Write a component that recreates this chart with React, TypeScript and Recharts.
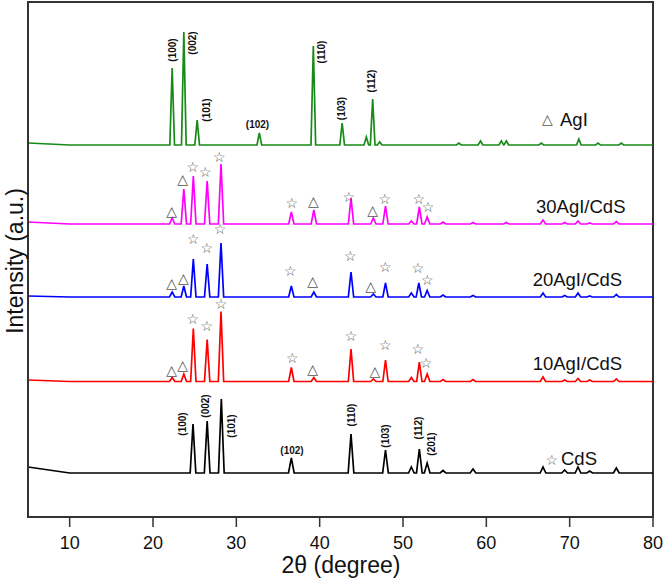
import React from 'react';
import { ComposedChart, Line, XAxis, YAxis, ReferenceArea, ReferenceDot } from 'recharts';

// ---------- data (2θ in degrees, intensity in arbitrary stacked units) ----------
const X_TICKS = [10, 20, 30, 40, 50, 60, 70, 80];

// AgI
const agiStart = 374;
const agiBase = 372;
const agiPos = [22.3, 23.7, 25.3, 32.76, 39.24, 42.7, 45.6, 46.36, 47.2, 56.7, 59.3, 61.8, 62.4, 66.6, 71.1, 73.4, 76.2];
const agiHeight = [77, 113, 25, 12, 99, 22, 8, 46, 3, 2, 4, 4, 4, 2, 6, 2, 2];

// 30AgI/CdS
const s30Start = 295;
const s30Base = 293;
const s30Pos = [22.3, 23.7, 24.84, 26.5, 28.16, 36.6, 39.3, 43.76, 46.44, 47.9, 51.0, 51.96, 52.9, 54.8, 58.4, 62.4, 66.8, 69.4, 71.0, 72.4, 75.6];
const s30Height = [6, 35, 48, 43, 60, 12, 14, 26, 6, 18, 3, 17, 7, 2, 1.5, 1.5, 4, 1.5, 3, 1, 2.5];

// 20AgI/CdS
const s20Start = 221;
const s20Base = 220;
const s20Pos = [22.3, 23.7, 24.84, 26.5, 28.16, 36.6, 39.3, 43.76, 46.44, 47.9, 51.0, 51.9, 52.9, 54.8, 58.4, 66.8, 69.4, 71.0, 72.4, 75.6];
const s20Height = [5, 11, 38, 33, 54, 11, 5, 25, 3, 14, 4, 14, 6.5, 2, 1.5, 4, 1.5, 4, 1, 2.5];

// 10AgI/CdS
const s10Start = 137;
const s10Base = 135.5;
const s10Pos = [22.3, 23.7, 24.84, 26.5, 28.16, 36.6, 39.3, 43.76, 46.44, 47.9, 51.0, 51.96, 52.9, 54.8, 58.4, 66.8, 69.4, 71.0, 72.4, 75.6];
const s10Height = [4, 7.5, 53, 42, 70, 14, 4, 32.5, 2.5, 21.5, 4, 19.5, 7.5, 2, 2, 4.5, 1.5, 3, 1.5, 2.5];

// CdS
const cdsStart = 50;
const cdsBase = 44;
const cdsPos = [24.8, 26.5, 28.2, 36.6, 43.76, 47.9, 51.0, 51.96, 52.9, 54.8, 58.4, 66.8, 69.4, 71.0, 72.4, 75.6];
const cdsHeight = [49, 52, 74, 15, 39, 23, 6, 24, 10, 2.5, 4, 6, 3, 6, 2, 5];

// phase markers: [2θ, y, kind] kind: 's' = CdS star, 't' = AgI triangle
const markers30: [number, number, string][] = [
  [22.24, 306.3, 't'], [23.56, 338, 't'], [24.76, 349.7, 's'], [26.28, 345.3, 's'], [27.96, 360.3, 's'],
  [36.64, 313.7, 's'], [39.24, 315.7, 't'], [43.48, 319.7, 's'], [46.36, 307, 't'], [47.8, 318, 's'],
  [51.9, 318.3, 's'], [53.0, 310.3, 's'],
];
const markers20: [number, number, string][] = [
  [22.24, 234.3, 't'], [23.64, 239.3, 't'], [24.84, 277.7, 's'], [26.44, 269.3, 's'], [28.04, 287.7, 's'],
  [36.48, 246, 's'], [39.16, 235.7, 't'], [43.68, 261, 's'], [46.12, 231.3, 't'], [47.88, 250.3, 's'],
  [51.76, 248.7, 's'], [52.92, 237, 's'],
];
const markers10: [number, number, string][] = [
  [22.24, 147, 't'], [23.56, 152, 't'], [24.76, 197.7, 's'], [26.44, 191, 's'], [28.16, 212.7, 's'],
  [36.72, 158.7, 's'], [39.16, 147.7, 't'], [43.76, 181, 's'], [46.64, 146, 't'], [47.88, 172, 's'],
  [51.76, 168, 's'], [52.76, 153.7, 's'],
];
const legendMarkers: [number, number, string][] = [[67.32, 398, 't'], [67.84, 57, 's']];

// sample labels: [2θ (left edge), y, text]
const sampleLabels: [number, number, string][] = [
  [68.84, 397.7, 'AgI'],
  [65.96, 311, '30AgI/CdS'],
  [65.56, 237.7, '20AgI/CdS'],
  [65.56, 153.7, '10AgI/CdS'],
  [68.96, 58.7, 'CdS'],
];

// Miller indices: [2θ (centre), y (centre), text, vertical?]
const hklLabels: [number, number, string, boolean][] = [
  [22.36, 467, '(100)', true], [24.76, 474, '(002)', true], [26.44, 407, '(101)', true],
  [32.54, 393, '(102)', false], [40.16, 465, '(110)', true], [42.56, 408.5, '(103)', true],
  [46.16, 436, '(112)', true],
  [23.56, 93, '(100)', true], [26.24, 111, '(002)', true], [29.44, 91, '(101)', true],
  [36.68, 67, '(102)', false], [43.76, 102, '(110)', true], [47.84, 81, '(103)', true],
  [51.84, 89, '(112)', true], [53.44, 73, '(201)', true],
];

// ---------- helpers ----------
type Pt = { x: number; y: number };
function buildTrace(start: number, base: number, pos: number[], h: number[], w: number): Pt[] {
  const pts: Pt[] = [{ x: 5, y: start }, { x: 10, y: base }];
  pos.forEach((p, i) => {
    pts.push({ x: p - w, y: base });
    pts.push({ x: p, y: base + h[i] });
    pts.push({ x: p + w, y: base });
  });
  pts.push({ x: 80, y: base });
  return pts;
}

const traces = [
  { name: 'AgI', color: '#178a17', data: buildTrace(agiStart, agiBase, agiPos, agiHeight, 0.28) },
  { name: '30AgI/CdS', color: '#ff00ff', data: buildTrace(s30Start, s30Base, s30Pos, s30Height, 0.32) },
  { name: '20AgI/CdS', color: '#0000ff', data: buildTrace(s20Start, s20Base, s20Pos, s20Height, 0.32) },
  { name: '10AgI/CdS', color: '#ff0000', data: buildTrace(s10Start, s10Base, s10Pos, s10Height, 0.32) },
  { name: 'CdS', color: '#000000', data: buildTrace(cdsStart, cdsBase, cdsPos, cdsHeight, 0.34) },
];

const allMarkers = [...markers30, ...markers20, ...markers10, ...legendMarkers];

const FONT = '"Liberation Sans", Arial, sans-serif';
const AXIS = '#333';

const markerShape = (kind: string) => (props: any) => {
  const { cx, cy } = props;
  return (
    <text
      x={cx}
      y={cy}
      textAnchor="middle"
      dominantBaseline="central"
      fontFamily='"DejaVu Sans", sans-serif'
      fontSize={14}
      fill="#555"
    >
      {kind === 't' ? '△' : '☆'}
    </text>
  );
};

const sampleShape = (t: string) => (props: any) => (
  <text x={props.cx} y={props.cy} dominantBaseline="central" textAnchor="start" fontFamily={FONT} fontSize={18.5} fill="#111">
    {t}
  </text>
);

const hklShape = (t: string, vertical: boolean) => (props: any) => {
  const { cx, cy } = props;
  return (
    <text
      x={cx}
      y={cy}
      textAnchor="middle"
      dominantBaseline="central"
      fontFamily={FONT}
      fontWeight="bold"
      fontSize={10}
      fill="#111"
      transform={vertical ? `rotate(-90 ${cx} ${cy})` : undefined}
    >
      {t}
    </text>
  );
};

const XLabel = () => (
  <text x={341} y={573} textAnchor="middle" fontFamily={FONT} fontSize={23} fill="#111">
    2θ (degree)
  </text>
);
const YLabel = () => (
  <text x={15} y={261} textAnchor="middle" dominantBaseline="central" fontFamily={FONT} fontSize={23} fill="#111" transform="rotate(-90 15 261)">
    Intensity (a.u.)
  </text>
);

export default function App() {
  return (
    <div style={{ position: 'absolute', left: 0, top: 0, width: 664, height: 580, background: '#fff' }}>
      <ComposedChart width={664} height={580} margin={{ top: 2, right: 11, bottom: 13, left: 0 }}>
        <XAxis
          xAxisId="b"
          type="number"
          dataKey="x"
          domain={[5, 80]}
          ticks={X_TICKS}
          allowDataOverflow
          height={50}
          tickSize={10}
          tickMargin={9}
          axisLine={{ stroke: AXIS, strokeWidth: 2 }}
          tickLine={{ stroke: AXIS, strokeWidth: 1.5 }}
          tick={{ fill: '#111', fontSize: 18, fontFamily: FONT }}
          label={<XLabel />}
        />
        <YAxis
          yAxisId="l"
          type="number"
          dataKey="y"
          domain={[0, 515]}
          allowDataOverflow
          width={28}
          tick={false}
          tickLine={false}
          axisLine={{ stroke: AXIS, strokeWidth: 2 }}
          label={<YLabel />}
        />
        <ReferenceArea xAxisId="b" yAxisId="l" x1={5} x2={80} y1={0} y2={515} fill="none" stroke={AXIS} strokeWidth={2} />
        {traces.map((t) => (
          <Line
            key={t.name}
            xAxisId="b"
            yAxisId="l"
            data={t.data}
            dataKey="y"
            type="linear"
            stroke={t.color}
            strokeWidth={1.7}
            dot={false}
            activeDot={false}
            isAnimationActive={false}
          />
        ))}
        {allMarkers.map(([x, y, k], i) => (
          <ReferenceDot key={'m' + i} xAxisId="b" yAxisId="l" x={x} y={y} r={5} shape={markerShape(k)} />
        ))}
        {sampleLabels.map(([x, y, t], i) => (
          <ReferenceDot key={'s' + i} xAxisId="b" yAxisId="l" x={x} y={y} r={5} shape={sampleShape(t)} />
        ))}
        {hklLabels.map(([x, y, t, v], i) => (
          <ReferenceDot key={'h' + i} xAxisId="b" yAxisId="l" x={x} y={y} r={5} shape={hklShape(t, v)} />
        ))}
      </ComposedChart>
    </div>
  );
}
